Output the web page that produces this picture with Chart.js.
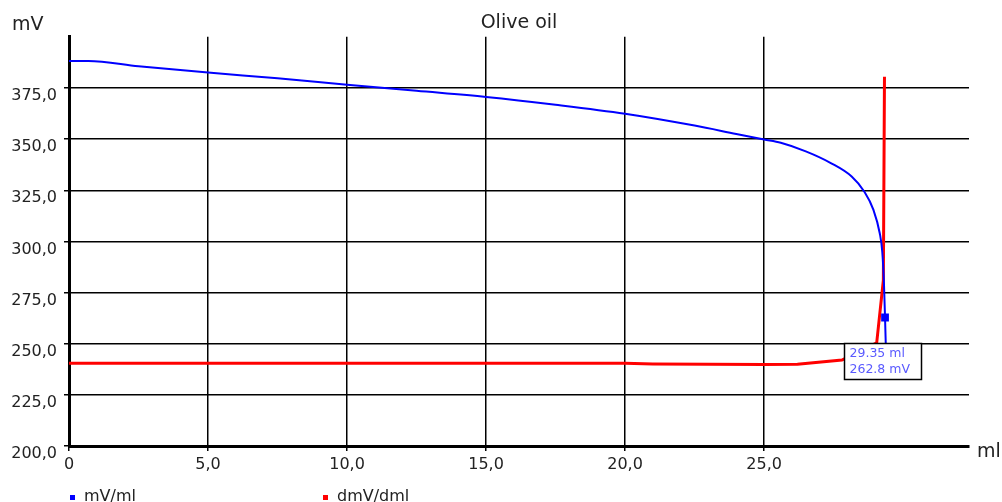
<!DOCTYPE html>
<html><head><meta charset="utf-8">
<script src="https://cdn.jsdelivr.net/npm/chart.js@4.4.1/dist/chart.umd.min.js"></script>
<style>html,body{margin:0;padding:0;background:#fff;}#wrap{width:1002px;height:502px;position:relative;}</style>
</head><body><div id="wrap"><canvas id="c" width="1002" height="502"></canvas></div>
<script>
const chartTitle = 'Olive oil';
const xAxisTitle = 'ml';
const yAxisTitle = 'mV';
const xTickValues = [0, 5, 10, 15, 20, 25];
const yTickValues = [200, 225, 250, 275, 300, 325, 350, 375];
const seriesNames = ['mV/ml', 'dmV/dml'];
const mvVolume = [0, 0.7, 2.5, 5, 7.5, 10, 12.5, 15, 17.5, 20, 22.5, 24, 25, 25.6, 26.5, 27.4, 28.15, 28.6, 28.93, 29.16, 29.25, 29.31, 29.35, 29.38];
const mvValues = [388.2, 388.2, 385.6, 382.5, 379.7, 376.6, 373.6, 370.6, 366.8, 362.4, 356.6, 352.5, 349.8, 348.2, 344.0, 338.3, 331.7, 324.4, 315.5, 304.0, 295.0, 280.0, 262.8, 248.0];
const dmvVolume = [0, 20, 21, 25, 26.2, 27.8, 29.05, 29.29, 29.33];
const dmvValues = [240.4, 240.4, 240.1, 239.8, 240.0, 242.0, 250.4, 281.0, 380.5];
const endpointVolume = 29.35;
const endpointPotential = 262.8;
const endpointLabels = ['29.35 ml', '262.8 mV'];

const FONT = 'DejaVu Sans';
const fmt = v => v.toFixed(1).replace('.', ',');

const mvPoints = mvVolume.map((x, i) => ({x, y: mvValues[i]}));
const dmvPoints = dmvVolume.map((x, i) => ({x, y: dmvValues[i]}));
const markerIndex = mvVolume.indexOf(endpointVolume);

const extras = {
  id: 'extras',
  afterDatasetsDraw(chart) {
    const ctx = chart.ctx, xs = chart.scales.x, ys = chart.scales.y;
    const px = xs.getPixelForValue(endpointVolume), py = ys.getPixelForValue(endpointPotential);
    const bx = Math.round(px - 41) + 0.5, by = Math.round(py + 25) + 0.5;
    ctx.save();
    ctx.fillStyle = '#fff';
    ctx.fillRect(bx, by, 77, 36);
    ctx.strokeStyle = '#000';
    ctx.lineWidth = 1.5;
    ctx.strokeRect(bx, by, 77, 36);
    ctx.fillStyle = '#5a5aff';
    ctx.font = '12.5px "' + FONT + '"';
    ctx.textBaseline = 'middle';
    ctx.textAlign = 'left';
    ctx.fillText(endpointLabels[0], bx + 5, by + 10);
    ctx.fillText(endpointLabels[1], bx + 5, by + 26);
    ctx.restore();
  },
  afterDraw(chart) {
    const ctx = chart.ctx, a = chart.chartArea;
    ctx.save();
    ctx.fillStyle = '#222';
    ctx.font = '19px "' + FONT + '"';
    ctx.textBaseline = 'alphabetic';
    ctx.textAlign = 'left';
    ctx.fillText(yAxisTitle, 12, 30);
    ctx.fillText(xAxisTitle, a.right + 8, a.bottom + 11);
    ctx.font = '16px "' + FONT + '"';
    const starts = [a.left + 1, a.left + 254];
    chart.data.datasets.forEach((ds, i) => {
      ctx.fillStyle = ds.borderColor;
      ctx.fillRect(starts[i], 495, 5, 5);
      ctx.fillStyle = '#222';
      ctx.fillText(ds.label, starts[i] + 14, 501);
    });
    ctx.restore();
  }
};

new Chart(document.getElementById('c'), {
  type: 'line',
  data: {
    datasets: [
      { label: seriesNames[0], data: mvPoints, borderColor: '#0000ff', backgroundColor: '#0000ff', borderWidth: 2,
        pointRadius: mvPoints.map((p, i) => i === markerIndex ? 5.5 : 0), pointStyle: 'rect', pointBorderWidth: 0,
        fill: false, cubicInterpolationMode: 'monotone' },
      { label: seriesNames[1], data: dmvPoints, borderColor: '#ff0000', backgroundColor: '#ff0000', borderWidth: 3,
        pointRadius: 0, fill: false, tension: 0 }
    ]
  },
  options: {
    responsive: false,
    animation: false,
    layout: { padding: { left: 0, right: 33, top: 0, bottom: 0 } },
    plugins: {
      legend: { display: false },
      tooltip: { enabled: false },
      title: { display: true, text: chartTitle, fullSize: false, color: '#222',
        font: { family: FONT, size: 19, weight: 'normal' }, padding: { top: 12, bottom: 2 } }
    },
    scales: {
      x: {
        type: 'linear', min: 0, max: 32.37,
        afterBuildTicks: s => { s.ticks = xTickValues.map(v => ({value: v})); },
        afterFit: s => { s.height = 56; },
        grid: { color: '#000', lineWidth: 1.5, drawTicks: true, tickLength: 5, tickColor: '#000' },
        border: { display: true, color: '#000', width: 3 },
        ticks: { color: '#222', font: { family: FONT, size: 16 }, padding: 4, maxRotation: 0,
          callback: v => v === 0 ? '0' : fmt(v) }
      },
      y: {
        type: 'linear', min: 200, max: 400,
        afterBuildTicks: s => { s.ticks = yTickValues.map(v => ({value: v})); },
        afterFit: s => { s.width = 69; },
        grid: { color: '#000', lineWidth: 1.5, drawTicks: true, tickLength: 5, tickColor: '#000' },
        border: { display: true, color: '#000', width: 3 },
        ticks: { color: '#222', font: { family: FONT, size: 16 }, padding: 7, labelOffset: 8,
          callback: v => fmt(v) }
      }
    }
  },
  plugins: [extras]
});
</script></body></html>
